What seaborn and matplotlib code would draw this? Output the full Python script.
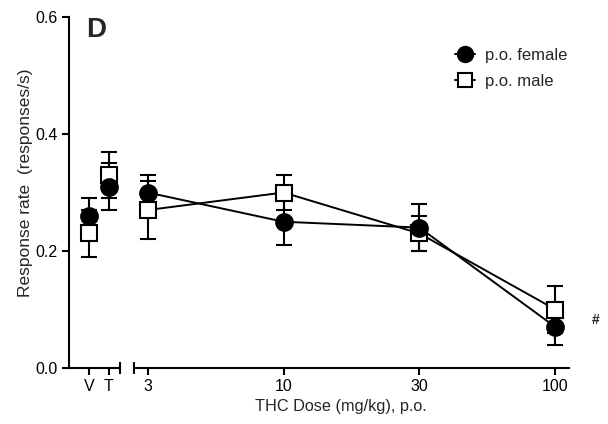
import matplotlib
matplotlib.use("Agg")
import matplotlib.pyplot as plt
from matplotlib.lines import Line2D
import numpy as np
import pandas as pd
import seaborn as sns

# Control groups (vehicle, THC reference) and oral THC doses
vt_labels = ["V", "T"]
dose_labels = ["3", "10", "30", "100"]

female_vt = [0.26, 0.31]
female_vt_sem = [0.03, 0.04]
male_vt = [0.23, 0.33]
male_vt_sem = [0.04, 0.04]

female_dose = [0.30, 0.25, 0.24, 0.07]
female_dose_sem = [0.03, 0.04, 0.04, 0.03]
male_dose = [0.27, 0.30, 0.23, 0.10]
male_dose_sem = [0.05, 0.03, 0.03, 0.04]

sns.set_theme(style="ticks")
plt.rcParams["font.family"] = ["Liberation Sans", "DejaVu Sans"]
plt.rcParams["axes.linewidth"] = 1.5
plt.rcParams["xtick.major.width"] = 1.5
plt.rcParams["ytick.major.width"] = 1.5
plt.rcParams["xtick.minor.width"] = 1.5
plt.rcParams["xtick.color"] = "black"
plt.rcParams["ytick.color"] = "black"
plt.rcParams["axes.edgecolor"] = "black"

fig = plt.figure(figsize=(6.08, 4.24), dpi=100)
bottom, top = 1 - 368 / 424, 1 - 17 / 424
ax1 = fig.add_axes([69 / 608, bottom, (120 - 69) / 608, top - bottom])
ax2 = fig.add_axes([134 / 608, bottom, (569 - 134) / 608, top - bottom], sharey=ax1)

styles = {
    "p.o. female": dict(marker="o", mfc="black", mec="black", ms=12, z=4),
    "p.o. male": dict(marker="s", mfc="white", mec="black", ms=11, z=3),
}

vt_df = pd.DataFrame({
    "pos": list(range(len(vt_labels))) * 2,
    "rate": female_vt + male_vt,
    "sem": female_vt_sem + male_vt_sem,
    "group": ["p.o. female"] * 2 + ["p.o. male"] * 2,
})
dose_df = pd.DataFrame({
    "pos": list(range(len(dose_labels))) * 2,
    "rate": female_dose + male_dose,
    "sem": female_dose_sem + male_dose_sem,
    "group": ["p.o. female"] * 4 + ["p.o. male"] * 4,
})

for ax, df, connect in [(ax1, vt_df, False), (ax2, dose_df, True)]:
    for grp, st in styles.items():
        sub = df[df["group"] == grp]
        ax.errorbar(sub["pos"], sub["rate"], yerr=sub["sem"], fmt="none",
                    ecolor="black", elinewidth=1.5, capsize=6, capthick=1.5,
                    zorder=st["z"] - 1)
        if connect:
            sns.lineplot(data=sub, x="pos", y="rate", ax=ax, color="black",
                         linewidth=1.4, zorder=st["z"] - 0.5, legend=False,
                         errorbar=None)
        ax.plot(sub["pos"], sub["rate"], linestyle="none", marker=st["marker"],
                mfc=st["mfc"], mec=st["mec"], ms=st["ms"], mew=1.5,
                zorder=st["z"])

# left panel: V and T
ax1.set_xlim(-1.0, 1.55)
ax1.set_xticks(range(len(vt_labels)))
ax1.set_xticklabels(vt_labels)
ax1.set_xticks([1.55], minor=True)
ax1.tick_params(axis="x", which="minor", direction="inout", length=9)
ax1.set_ylim(0, 0.6)
ax1.set_yticks([0.0, 0.2, 0.4, 0.6])
ax1.set_yticklabels(["0.0", "0.2", "0.4", "0.6"])
ax1.spines["top"].set_visible(False)
ax1.spines["right"].set_visible(False)
ax1.set_xlabel("")
ax1.set_ylabel("Response rate  (responses/s)", fontsize=12.5)
ax1.yaxis.set_label_coords(-0.71, 0.528)

# right panel: doses
ax2.set_xlim(-0.1, 3.1)
ax2.set_xticks(range(len(dose_labels)))
ax2.set_xticklabels(dose_labels)
ax2.set_xticks([-0.1], minor=True)
ax2.tick_params(axis="x", which="minor", direction="inout", length=9)
ax2.tick_params(axis="y", left=False, labelleft=False)
for s in ["top", "right", "left"]:
    ax2.spines[s].set_visible(False)
ax2.set_xlabel("THC Dose (mg/kg), p.o.", fontsize=11.7)
ax2.xaxis.set_label_coords(0.476, -0.088)
ax2.set_ylabel("")
ax2.annotate("#", xy=(3, female_dose[3]), xytext=(29, 5),
             textcoords="offset points", fontsize=10, fontweight="bold",
             ha="center", va="center")

for ax in (ax1, ax2):
    ax.tick_params(axis="both", which="major", labelsize=11.5, length=5,
                   pad=3, colors="black")
    ax.patch.set_alpha(0)

fig.text(96 / 608, 1 - 30 / 424, "D", fontsize=20, fontweight="bold",
         ha="center", va="center")

handles = [
    Line2D([], [], color="black", lw=1.4, marker=st["marker"], mfc=st["mfc"],
           mec=st["mec"], ms=st["ms"] - 1, mew=1.5, label=grp)
    for grp, st in styles.items()
]
fig.legend(handles=handles, loc="upper left",
           bbox_to_anchor=(455 / 608, 1 - 48 / 424), borderaxespad=0,
           borderpad=0, frameon=False, fontsize=12, handlelength=1.2,
           handletextpad=0.6, labelspacing=0.68)

fig.savefig("out.png", dpi=100)
